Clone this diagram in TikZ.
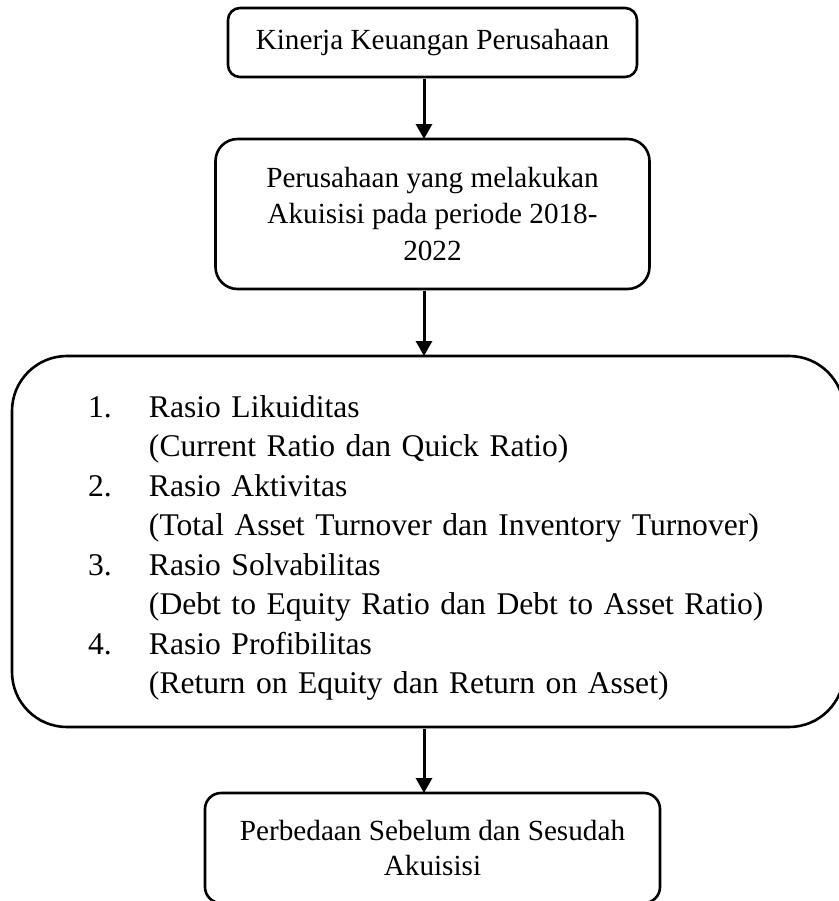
\documentclass[tikz,border=0pt]{standalone}
\usepackage{fontspec}
\setmainfont{Liberation Serif}
\usepackage{array}
\usetikzlibrary{arrows.meta,positioning}

\begin{document}
\begin{tikzpicture}[
  font=\fontsize{14.6}{18.25}\selectfont,
  box/.style={draw=black, line width=1.3pt, rounded corners=#1, outer sep=0pt, inner sep=0pt, align=center},
  box/.default=6pt,
  listbox/.style={box=27.5pt, text width=340pt, inner xsep=38pt, align=left, font=\fontsize{15.8}{19.75}\selectfont},
  arr/.style={-{Triangle[width=8pt,length=7.5pt]}, line width=1.5pt, shorten <=1pt}
]
\useasboundingbox (0,0) rectangle (419.5pt,-450.5pt);
\clip (0,0) rectangle (419.5pt,-450.5pt);
\node[box=6pt, minimum width=204.5pt, minimum height=34.5pt] (kinerja) at (216.25pt,-21.25pt) {Kinerja Keuangan Perusahaan};
\node[box=11pt, minimum width=217pt, minimum height=75pt, below=31pt of kinerja] (akuisisi) {Perusahaan yang melakukan\\Akuisisi pada periode 2018-\\2022};
\node[listbox, minimum width=416pt, minimum height=185.5pt, below=33.5pt of akuisisi, xshift=-2.25pt] (rasio) {%
  \begin{tabular}{@{}p{30.5pt}@{}l@{}}
  \rule{0pt}{20pt}1. & Rasio Likuiditas\\
     & (Current Ratio dan Quick Ratio)\\
  2. & Rasio Aktivitas\\
     & (Total Asset Turnover dan Inventory Turnover)\\
  3. & Rasio Solvabilitas\\
     & (Debt to Equity Ratio dan Debt to Asset Ratio)\\
  4. & Rasio Profibilitas\\
     & (Return on Equity dan Return on Asset)
  \end{tabular}};
\node[box=8pt, minimum width=227.5pt, minimum height=55pt, font=\fontsize{14.6}{17.5}\selectfont, below=33pt of rasio, xshift=2.25pt] (beda) {Perbedaan Sebelum dan Sesudah\\Akuisisi};
\coordinate (poros) at (212pt,0);
\draw[arr] (kinerja.south -| poros) -- (akuisisi.north -| poros);
\draw[arr] (akuisisi.south -| poros) -- (rasio.north -| poros);
\draw[arr] (rasio.south -| poros) -- (beda.north -| poros);
\end{tikzpicture}
\end{document}
